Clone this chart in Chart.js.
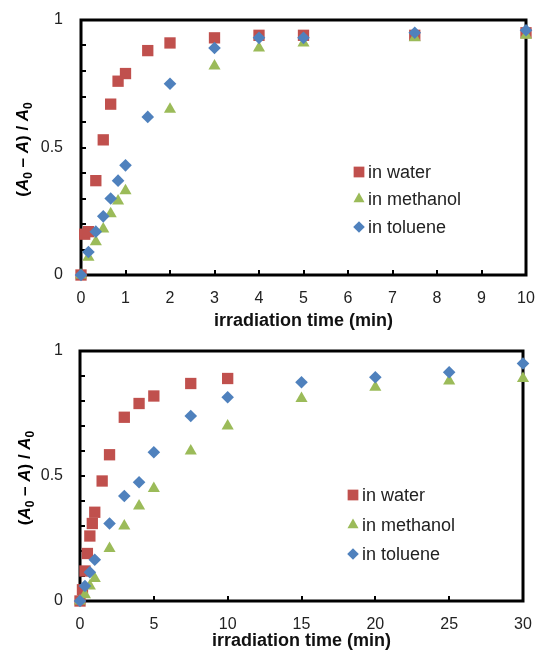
<!DOCTYPE html>
<html>
<head>
<meta charset="utf-8">
<script src="https://cdn.jsdelivr.net/npm/chart.js@4.4.1/dist/chart.umd.min.js"></script>
<style>
    body { margin: 0; background: #fff; }
    canvas { display: block; }
</style>
</head>
<body>
<canvas id="topChart" width="537" height="335"></canvas>
<canvas id="bottomChart" width="537" height="315"></canvas>
<script>
// top panel (0 - 10 min)
const topWaterTime = [0, 0.083, 0.167, 0.333, 0.5, 0.667, 0.833, 1, 1.5, 2, 3, 4, 5, 7.5, 10];
const topWater = [0, 0.16, 0.17, 0.37, 0.53, 0.67, 0.76, 0.79, 0.88, 0.91, 0.93, 0.94, 0.94, 0.94, 0.95];
const topMethanolTime = [0, 0.167, 0.333, 0.5, 0.667, 0.833, 1, 2, 3, 4, 5, 7.5, 10];
const topMethanol = [0, 0.07, 0.13, 0.18, 0.24, 0.29, 0.33, 0.65, 0.82, 0.89, 0.91, 0.93, 0.94];
const topTolueneTime = [0, 0.167, 0.333, 0.5, 0.667, 0.833, 1, 1.5, 2, 3, 4, 5, 7.5, 10];
const topToluene = [0, 0.09, 0.17, 0.23, 0.30, 0.37, 0.43, 0.62, 0.75, 0.89, 0.93, 0.93, 0.95, 0.96];

// bottom panel (0 - 30 min)
const botWaterTime = [0, 0.167, 0.333, 0.5, 0.667, 0.833, 1, 1.5, 2, 3, 4, 5, 7.5, 10];
const botWater = [0, 0.045, 0.12, 0.19, 0.26, 0.31, 0.355, 0.48, 0.585, 0.735, 0.79, 0.82, 0.87, 0.89];
const botMethanolTime = [0, 0.333, 0.667, 1, 2, 3, 4, 5, 7.5, 10, 15, 20, 25, 30];
const botMethanol = [0, 0.025, 0.06, 0.09, 0.21, 0.30, 0.38, 0.45, 0.60, 0.70, 0.81, 0.855, 0.88, 0.89];
const botTolueneTime = [0, 0.333, 0.667, 1, 2, 3, 4, 5, 7.5, 10, 15, 20, 25, 30];
const botToluene = [0, 0.06, 0.115, 0.165, 0.31, 0.42, 0.475, 0.595, 0.74, 0.815, 0.875, 0.895, 0.915, 0.95];

const seriesNames = ["in water", "in methanol", "in toluene"];
const yTickLabels = { 0: "0", 0.5: "0.5", 1: "1" };
const yMinorTicks = [0.1, 0.2, 0.3, 0.4, 0.5, 0.6, 0.7, 0.8, 0.9];

const RED = "#C0504D";
const GREEN = "#9BBB59";
const BLUE = "#4F81BD";
const FONT = "'Liberation Sans', Arial, sans-serif";

const markers = [
    { pointStyle: "rect", radius: 8, legendRadius: 7.6, color: RED, order: 3 },
    { pointStyle: "triangle", radius: 7, legendRadius: 6.4, color: GREEN, order: 2 },
    { pointStyle: "rectRot", radius: 6.3, legendRadius: 5.8, color: BLUE, order: 1 }
];

function toPoints(xs, ys) {
    return xs.map((x, i) => ({ x, y: ys[i] }));
}

function makeDatasets(groups) {
    return groups.map((g, i) => ({
        label: seriesNames[i],
        data: toPoints(g[0], g[1]),
        showLine: false,
        pointStyle: markers[i].pointStyle,
        pointRadius: markers[i].radius,
        backgroundColor: markers[i].color,
        borderColor: markers[i].color,
        borderWidth: 0,
        order: markers[i].order,
        clip: false
    }));
}

// black box round the plot with inward tick marks
const framePlugin = {
    id: "frame",
    beforeDatasetsDraw(chart) {
        const { ctx, chartArea: a, scales } = chart;
        ctx.save();
        ctx.strokeStyle = "#000";
        ctx.lineWidth = 2;
        ctx.beginPath();
        yMinorTicks.forEach(v => {
            const y = Math.round(scales.y.getPixelForValue(v));
            ctx.moveTo(a.left, y);
            ctx.lineTo(a.left + 5, y);
        });
        scales.x.ticks.forEach(t => {
            const x = Math.round(scales.x.getPixelForValue(t.value));
            ctx.moveTo(x, a.bottom);
            ctx.lineTo(x, a.bottom - 5);
        });
        ctx.stroke();
        ctx.lineWidth = 3;
        ctx.strokeRect(a.left, a.top, a.right - a.left, a.bottom - a.top);
        ctx.restore();
    }
};

// "(A0 – A) / A0" with italic A and subscript 0
const yTitlePlugin = {
    id: "yTitle",
    afterDraw(chart, args, opts) {
        const { ctx, chartArea: a } = chart;
        const big = "bold 17px " + FONT;
        const bigIt = "italic bold 17px " + FONT;
        const small = "bold 12px " + FONT;
        const parts = [
            ["(", big, 0], ["A", bigIt, 0], ["0", small, 4],
            [" \u2013 ", big, 0], ["A", bigIt, 0], [") / ", big, 0],
            ["A", bigIt, 0], ["0", small, 4]
        ];
        ctx.save();
        let total = 0;
        parts.forEach(p => { ctx.font = p[1]; total += ctx.measureText(p[0]).width; });
        ctx.translate(opts.x, (a.top + a.bottom) / 2 + 2);
        ctx.rotate(-Math.PI / 2);
        ctx.fillStyle = "#000";
        ctx.textBaseline = "alphabetic";
        let x = -total / 2;
        parts.forEach(p => {
            ctx.font = p[1];
            ctx.fillText(p[0], x, 6 + p[2]);
            x += ctx.measureText(p[0]).width;
        });
        ctx.restore();
    }
};

const legendPlugin = {
    id: "insideLegend",
    afterDatasetsDraw(chart, args, opts) {
        const { ctx, chartArea: a } = chart;
        ctx.save();
        ctx.font = "18px " + FONT;
        ctx.textBaseline = "middle";
        seriesNames.forEach((name, i) => {
            const mx = a.left + opts.x;
            const my = a.top + opts.rows[i];
            ctx.fillStyle = markers[i].color;
            Chart.helpers.drawPoint(ctx, {
                pointStyle: markers[i].pointStyle,
                radius: markers[i].legendRadius,
                rotation: 0,
                borderWidth: 0
            }, mx, my);
            ctx.fillStyle = "#222";
            ctx.fillText(name, mx + 9, my + 1);
        });
        ctx.restore();
    }
};

function buildChart(id, opt) {
    const ctx = document.getElementById(id).getContext("2d");
    return new Chart(ctx, {
        type: "scatter",
        data: { datasets: makeDatasets(opt.groups) },
        options: {
            responsive: false,
            animation: false,
            events: [],
            layout: { padding: { top: opt.top, right: opt.right, left: 0, bottom: 0 } },
            plugins: {
                legend: { display: false },
                tooltip: { enabled: false },
                yTitle: { x: opt.titleX },
                insideLegend: { x: opt.legendX, rows: opt.legendRows }
            },
            scales: {
                x: {
                    type: "linear",
                    min: 0,
                    max: opt.xMax,
                    afterFit: s => {
                        s.height = opt.xHeight;
                        s.paddingLeft = 0;
                        s.paddingRight = 0;
                    },
                    grid: { display: false },
                    border: { display: false },
                    ticks: {
                        stepSize: opt.xStep,
                        autoSkip: false,
                        maxRotation: 0,
                        padding: 6,
                        color: "#222",
                        font: { family: FONT, size: 16 }
                    },
                    title: {
                        display: true,
                        text: "irradiation time (min)",
                        color: "#111",
                        padding: { top: 0, bottom: opt.titlePad },
                        font: { family: FONT, size: 18, weight: "bold", lineHeight: 1 }
                    }
                },
                y: {
                    min: 0,
                    max: 1,
                    afterFit: s => {
                        s.width = opt.yWidth;
                        s.paddingTop = 0;
                        s.paddingBottom = 0;
                    },
                    grid: { display: false },
                    border: { display: false },
                    ticks: {
                        stepSize: 0.5,
                        padding: opt.yPad,
                        color: "#222",
                        font: { family: FONT, size: 16 },
                        callback: v => yTickLabels[v]
                    }
                }
            }
        },
        plugins: [framePlugin, yTitlePlugin, legendPlugin]
    });
}

buildChart("topChart", {
    groups: [[topWaterTime, topWater], [topMethanolTime, topMethanol], [topTolueneTime, topToluene]],
    top: 20, right: 11, yWidth: 81, xHeight: 60, titlePad: 5, yPad: 10,
    xMax: 10, xStep: 1, titleX: 22,
    legendX: 278, legendRows: [152, 179, 207]
});

buildChart("bottomChart", {
    groups: [[botWaterTime, botWater], [botMethanolTime, botMethanol], [botTolueneTime, botToluene]],
    top: 16, right: 14, yWidth: 80, xHeight: 49, titlePad: 0, yPad: 9,
    xMax: 30, xStep: 5, titleX: 24,
    legendX: 273, legendRows: [144, 174, 203]
});
</script>
</body>
</html>
